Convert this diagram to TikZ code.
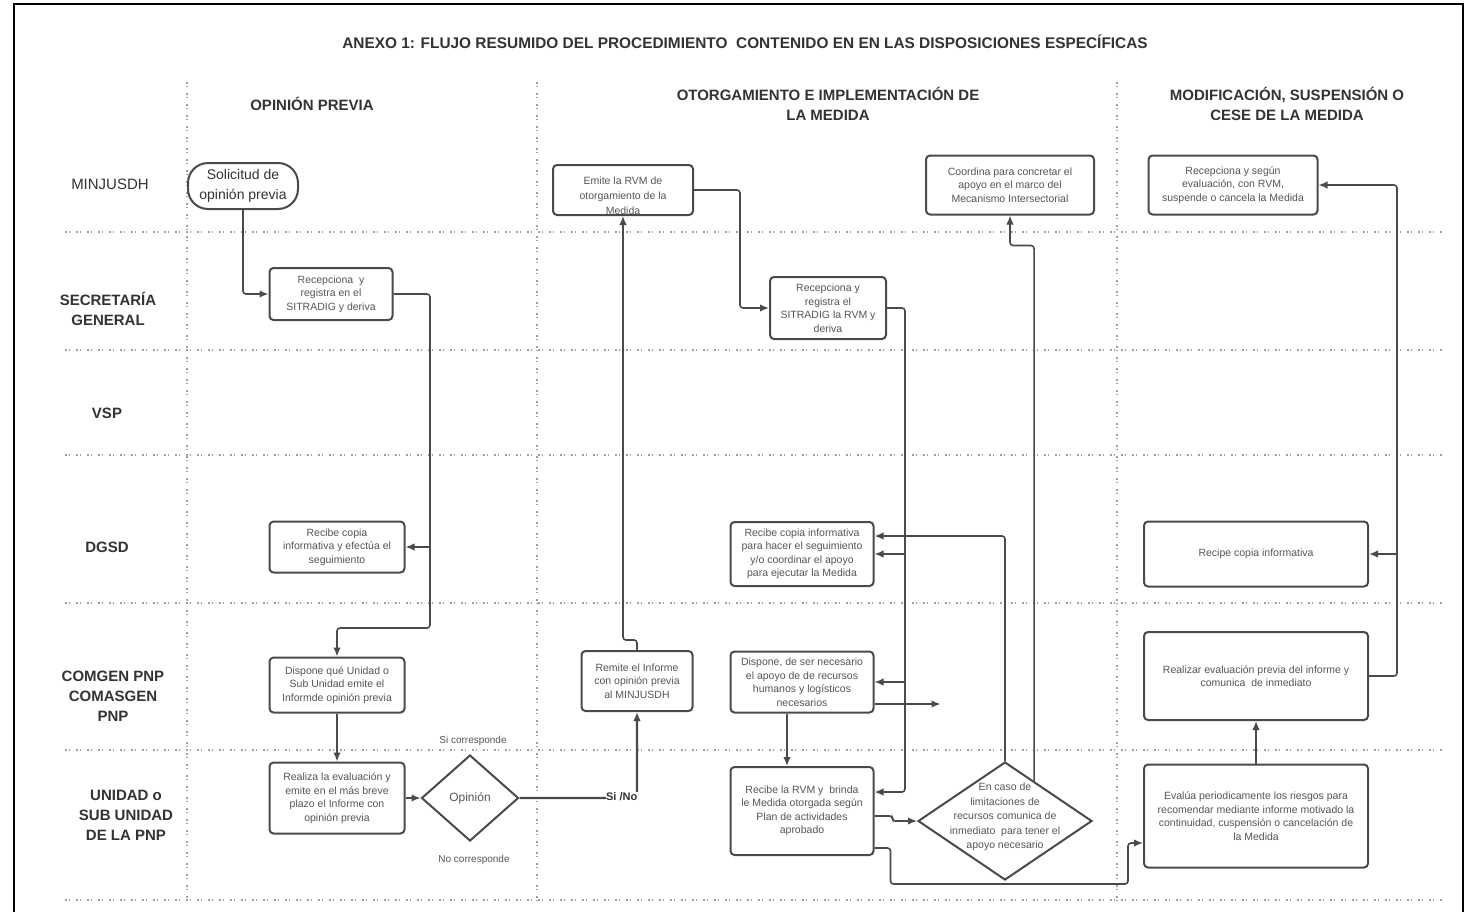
\documentclass[tikz,border=0pt]{standalone}
\usepackage{fontspec}
\setmainfont{Liberation Sans}
\usetikzlibrary{arrows.meta,shapes.geometric,calc}
\definecolor{ln}{HTML}{4A4A4A}
\definecolor{tx}{HTML}{555555}
\definecolor{hd}{HTML}{333333}
\definecolor{dt}{HTML}{A0A0A0}
\begin{document}
\begin{tikzpicture}[x=1pt,y=-1pt,
  box/.style={draw=ln, line width=2pt, rounded corners=4pt, fill=white, align=center, text=tx, font=\fontsize{10.5}{13.5}\selectfont, inner sep=2pt},
  txt/.style={align=center, text=tx, font=\fontsize{10.5}{13.5}\selectfont, inner sep=1pt},
  arr/.style={draw=ln, line width=1.6pt, -{Latex[length=9pt,width=7.5pt]}, rounded corners=3pt},
  grid/.style={draw=dt, line width=1.3pt, dash pattern=on 1.5pt off 2pt on 1.5pt off 6pt},
  lane/.style={font=\bfseries\fontsize{15}{20}\selectfont, text=hd, align=center},
  lbl/.style={font=\fontsize{10}{12}\selectfont, text=tx}]
\useasboundingbox (0,0) rectangle (1471,911);
\fill[white] (0,0) rectangle (1471,911);
\draw[line width=2pt] (14,4) rectangle (1463,915);

% grid
\foreach \y in {232,350,455,603,750,900} \draw[grid] (65,\y) -- (1443,\y);
\foreach \x in {187,537,1117} \draw[grid] (\x,82) -- (\x,905);

% title and headers
\node[font=\bfseries\fontsize{15.4}{18}\selectfont, text=hd] (title) at (745,42) {ANEXO 1: FLUJO RESUMIDO DEL PROCEDIMIENTO\ \ CONTENIDO EN EN LAS DISPOSICIONES ESPECÍFICAS};
\node[lane] (h1) at (312,104) {OPINIÓN PREVIA};
\node[lane] (h2) at (828,104) {OTORGAMIENTO E IMPLEMENTACIÓN DE\\LA MEDIDA};
\node[lane] (h3) at (1287,104) {MODIFICACIÓN, SUSPENSIÓN O\\CESE DE LA MEDIDA};

% lane labels
\node[font=\fontsize{15}{20}\selectfont, text=hd] (l1) at (110,184) {MINJUSDH};
\node[lane] (l2) at (108,309) {SECRETARÍA\\GENERAL};
\node[lane] (l3) at (107,413) {VSP};
\node[lane] (l4) at (107,547) {DGSD};
\node[lane] (l5) at (113,696) {COMGEN PNP\\COMASGEN\\PNP};
\node[lane] (l6) at (126,815) {UNIDAD o\\SUB UNIDAD\\DE LA PNP};

% column 1
\node[draw=ln, line width=2pt, rounded corners=20pt, minimum width=110, minimum height=46, align=center, text=hd, font=\fontsize{14}{20}\selectfont, inner sep=1pt] (sol) at (243,186) {Solicitud de\\opinión previa};
\node[box, minimum width=123, minimum height=52] (sg1) at (331,294) {Recepciona\ \ y\\registra en el\\SITRADIG y deriva};
\node[box, minimum width=135, minimum height=51] (dg1) at (337,547) {Recibe copia\\informativa y efectúa el\\seguimiento};
\node[box, minimum width=135, minimum height=55] (com1) at (337,685) {Dispone qué Unidad o\\Sub Unidad emite el\\Informde opinión previa};
\node[box, minimum width=135, minimum height=71] (uni1) at (337,798) {Realiza la evaluación y\\emite en el más breve\\plazo el Informe con\\opinión previa};
\node[draw=ln, line width=2pt, diamond, minimum width=97, minimum height=86, inner sep=0pt, fill=white, text=tx, font=\fontsize{12}{14}\selectfont] (op) at (470,798) {Opinión};
\node[lbl] (si) at (473,741) {Si corresponde};
\node[lbl] (no) at (474,860) {No corresponde};

% column 2
\node[box, minimum width=111, minimum height=60] (rem) at (637,681) {Remite el Informe\\con opinión previa\\al MINJUSDH};
\node[box, minimum width=140, minimum height=50] (emite) at (623,190) {};
\node[txt, font=\fontsize{10.5}{15}\selectfont] (emitet) at (623,196) {Emite la RVM de\\otorgamiento de la\\Medida};
\node[box, minimum width=116, minimum height=62] (sg2) at (828,308) {Recepciona y\\registra el\\SITRADIG la RVM y\\deriva};
\node[box, minimum width=168, minimum height=59] (coord) at (1010,185) {Coordina para concretar el\\apoyo en el marco del\\Mecanismo Intersectorial};
\node[box, minimum width=143, minimum height=64] (dg2) at (802,554) {Recibe copia informativa\\para hacer el seguimiento\\y/o coordinar el apoyo\\para ejecutar la Medida};
\node[box, minimum width=143, minimum height=61] (com2) at (802,682) {Dispone, de ser necesario\\el apoyo de de recursos\\humanos y logísticos\\necesarios};
\node[box, minimum width=143, minimum height=88] (uni2) at (802,811) {Recibe la RVM y\ \ brinda\\le Medida otorgada según\\Plan de actividades\\aprobado};
\node[draw=ln, line width=2pt, diamond, minimum width=174, minimum height=118, inner sep=0pt, fill=white] (dia) at (1005,821) {};
\node[txt, font=\fontsize{10.5}{14.5}\selectfont] (diat) at (1005,817) {En caso de\\limitaciones de\\recursos comunica de\\inmediato\ \ para tener el\\apoyo necesario};

% column 3
\node[box, minimum width=169, minimum height=59] (rec3) at (1233,185) {Recepciona y según\\evaluación, con RVM,\\suspende o cancela la Medida};
\node[box, minimum width=224, minimum height=65] (dg3) at (1256,554) {Recipe copia informativa};
\node[box, minimum width=224, minimum height=88] (com3) at (1256,676) {Realizar evaluación previa del informe y\\comunica\ \ de inmediato};
\node[box, minimum width=224, minimum height=103] (uni3) at (1256,816) {Evalúa periodicamente los riesgos para\\recomendar mediante informe motivado la\\continuidad, cuspensión o cancelación de\\la Medida};

% helper coordinates
\coordinate (c1) at (430,628);
\coordinate (c2) at (430,547);
\coordinate (c3) at (740,308);
\coordinate (c4) at (905,792);
\coordinate (c5) at (905,554);
\coordinate (c6) at (905,682);
\coordinate (c7) at (1128,884);
\coordinate (c8) at (1396,554);

% connectors column 1
\draw[arr] (sol.south) |- (sg1.west);
\draw[arr] (sg1.east) -| (c1) -| (com1.north);
\draw[arr] (c2) -- (dg1.east);
\draw[arr] (com1.south) -- (uni1.north);
\draw[arr] (uni1.east) -- (op.west);
\draw[arr, line width=2.2pt] (op.east) -| (rem.south);
\node[font=\bfseries\fontsize{11}{13}\selectfont, text=hd, fill=white, inner sep=0.5pt, anchor=east] (sino) at (638,797) {Si /No};

% connectors column 2
\draw[arr] (rem.north) -- ++(0,-10) -| (emite.south);
\draw[arr] (emite.east) -| (c3) -- (sg2.west);
\draw[arr] (sg2.east) -| (c4) -- ([yshift=19pt]uni2.east);
\draw[arr] (c5) -- (dg2.east);
\draw[arr] (c6) -- (com2.east);
\draw[arr] (dia.north) |- ([yshift=18pt]dg2.east);
\draw[arr] ([yshift=-22pt]com2.east) -- ++(66,0);
\draw[arr] ([xshift=-15pt]com2.south) -- ([xshift=-15pt]uni2.north);
\draw[arr] ([yshift=-5pt]uni2.east) -- ++(18,0) |- (dia.west);
\draw[arr] ([yshift=-37pt]uni2.east) -- ++(16,0) |- (c7) |- ([yshift=-27pt]uni3.west);
\draw[arr] ($(dia.north)!0.33!(dia.east)$) |- ([yshift=-30pt]coord.south) -- (coord.south);

% connectors column 3
\draw[arr] (uni3.north) -- (com3.south);
\draw[arr] (com3.east) -- ++(28,0) |- (rec3.east);
\draw[arr] (c8) -- (dg3.east);
\end{tikzpicture}
\end{document}
